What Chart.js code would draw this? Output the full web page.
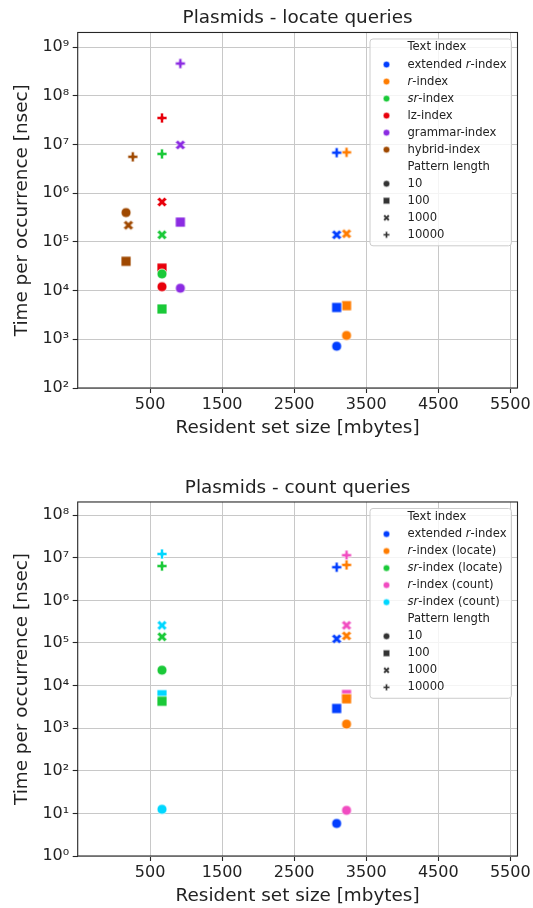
<!DOCTYPE html>
<html>
<head>
<meta charset="utf-8">
<script src="https://cdn.jsdelivr.net/npm/chart.js@4.4.1/dist/chart.umd.min.js"></script>
<style>
  html, body { margin: 0; padding: 0; background: #fff; }
  #wrap { position: relative; width: 533px; height: 908px; }
  canvas { position: absolute; left: 0; }
  #locateChart { top: 0; }
  #countChart { top: 454px; }
</style>
</head>
<body>
<div id="wrap">
  <canvas id="locateChart" width="533" height="454"></canvas>
  <canvas id="countChart" width="533" height="454"></canvas>
</div>
<script>
// ---- data ----
var xTicks = [500, 1500, 2500, 3500, 4500, 5500];
var locateYTicks = [1e2, 1e3, 1e4, 1e5, 1e6, 1e7, 1e8, 1e9];
var countYTicks = [1e0, 1e1, 1e2, 1e3, 1e4, 1e5, 1e6, 1e7, 1e8];
var patternLengths = ["10", "100", "1000", "10000"];
var markerShapes = ["o", "s", "X", "P"];

// resident set size per pattern length [mbytes]
var rssExtR = [3090, 3090, 3090, 3090];
var rssR = [3227, 3227, 3227, 3227];
var rssSr = [665, 665, 665, 665];
var rssLz = [665, 665, 665, 665];
var rssGrammar = [920, 920, 920, 920];
var rssHybrid = [166, 166, 199, 260];

// locate queries, time per occurrence [nsec]
var locExtR = [720, 4500, 140000, 6800000];
var locR = [1200, 4900, 147000, 6900000];
var locSr = [22000, 4200, 140000, 6400000];
var locLz = [12000, 29000, 660000, 35000000];
var locGrammar = [11200, 255000, 9800000, 460000000];
var locHybrid = [400000, 40000, 220000, 5600000];

// count queries, time per occurrence [nsec]
var cntExtR = [5.8, 2900, 125000, 6000000];
var cntRLocate = [1250, 4900, 147000, 6800000];
var cntSrLocate = [23000, 4300, 140000, 6400000];
var cntRCount = [11.8, 6200, 260000, 11500000];
var cntSrCount = [12.5, 6100, 260000, 12300000];

var BLUE = "#023eff", ORANGE = "#ff7c00", GREEN = "#1ac938", RED = "#e8000b",
    PURPLE = "#8b2be2", BROWN = "#9f4800", PINK = "#f14cc1", CYAN = "#00d7ff";

Chart.defaults.font.family = "'DejaVu Sans', sans-serif";
Chart.defaults.color = "#222";

var FONT = "'DejaVu Sans', sans-serif";
var SUP = ["\u2070", "\u00b9", "\u00b2", "\u00b3", "\u2074", "\u2075", "\u2076", "\u2077", "\u2078", "\u2079"];

// matplotlib filled 'X' and 'P' outlines, scaled to [-1, 1]
var X_PTS = [[-1,-2],[0,-1],[1,-2],[2,-1],[1,0],[2,1],[1,2],[0,1],[-1,2],[-2,1],[-1,0],[-2,-1]];
var P_PTS = [[-1,-3],[1,-3],[1,-1],[3,-1],[3,1],[1,1],[1,3],[-1,3],[-1,1],[-3,1],[-3,-1],[-1,-1]];

function marker(shape, color, size, edge) {
    var dim = Math.ceil(size + 4);
    var c = document.createElement("canvas");
    c.width = dim; c.height = dim;
    var g = c.getContext("2d");
    var h = size / 2;
    g.translate(dim / 2, dim / 2);
    g.beginPath();
    if (shape === "o") {
        g.arc(0, 0, h, 0, Math.PI * 2);
    } else if (shape === "s") {
        g.rect(-h, -h, size, size);
    } else {
        var pts = shape === "X" ? X_PTS : P_PTS;
        var k = shape === "X" ? h / 2 : h / 3;
        pts.forEach(function (p, i) {
            if (i) g.lineTo(p[0] * k, p[1] * k); else g.moveTo(p[0] * k, p[1] * k);
        });
        g.closePath();
    }
    g.fillStyle = color;
    g.fill();
    if (edge) {
        g.strokeStyle = "#fff";
        g.lineWidth = edge;
        g.stroke();
    }
    return c;
}

function makeDataset(name, color, rss, times) {
    return {
        label: name.replace(/\*/g, ""),
        data: times.map(function (t, i) { return { x: rss[i], y: t }; }),
        pointStyle: markerShapes.map(function (s) { return marker(s, color, 10, 0.8); }),
        pointRadius: 5,
        pointHoverRadius: 5,
        backgroundColor: color,
        borderColor: color,
        borderWidth: 0
    };
}

function drawRich(ctx, text, x, y) {
    var parts = text.split("*");
    for (var i = 0; i < parts.length; i++) {
        if (!parts[i]) continue;
        ctx.font = (i % 2 ? "italic " : "") + "11.6px " + FONT;
        ctx.fillText(parts[i], x, y);
        x += ctx.measureText(parts[i]).width;
    }
}

function boxLegend(rows) {
    return {
        id: "boxLegend",
        afterDatasetsDraw: function (chart) {
            var a = chart.chartArea, ctx = chart.ctx;
            ctx.save();
            // spines
            ctx.strokeStyle = "#262626";
            ctx.lineWidth = 1.1;
            ctx.strokeRect(a.left, a.top, a.right - a.left, a.bottom - a.top);

            var step = 17.03;
            var firstRow = a.top + 15;
            var x0 = a.right - 147.5, x1 = a.right - 6;
            var y0 = a.top + 6.5, y1 = firstRow + step * (rows.length - 1) + 11;
            ctx.beginPath();
            if (ctx.roundRect) ctx.roundRect(x0, y0, x1 - x0, y1 - y0, 3);
            else ctx.rect(x0, y0, x1 - x0, y1 - y0);
            ctx.fillStyle = "rgba(255,255,255,0.8)";
            ctx.fill();
            ctx.strokeStyle = "#cccccc";
            ctx.lineWidth = 1;
            ctx.stroke();

            ctx.textBaseline = "middle";
            ctx.textAlign = "left";
            ctx.fillStyle = "#222";
            rows.forEach(function (r, i) {
                var y = firstRow + step * i;
                if (r.shape) {
                    var m = marker(r.shape, r.color, 6.5, 0.5);
                    ctx.drawImage(m, a.right - 131 - m.width / 2, y - m.height / 2);
                }
                ctx.fillStyle = "#222";
                drawRich(ctx, r.label, a.right - 110, y);
            });
            ctx.restore();
        }
    };
}

function legendRows(names, colors) {
    var rows = [{ label: "Text index" }];
    names.forEach(function (n, i) { rows.push({ label: n, color: colors[i], shape: "o" }); });
    rows.push({ label: "Pattern length" });
    patternLengths.forEach(function (p, i) { rows.push({ label: p, color: "#333333", shape: markerShapes[i] }); });
    return rows;
}

function buildChart(id, titleText, titlePad, names, colors, datasets, yMin, yMax, yTicks, xScaleHeight, xTitlePad) {
    return new Chart(document.getElementById(id), {
        type: "scatter",
        data: { datasets: datasets },
        options: {
            responsive: false,
            animation: false,
            events: [],
            layout: { padding: { left: 0, right: 15.5, top: 0, bottom: 0 } },
            plugins: {
                legend: { display: false },
                tooltip: { enabled: false },
                title: {
                    display: true,
                    fullSize: false,
                    text: titleText,
                    color: "#222",
                    font: { size: 18.4, weight: "normal" },
                    padding: titlePad
                }
            },
            scales: {
                x: {
                    type: "linear",
                    min: -505,
                    max: 5600,
                    afterBuildTicks: function (scale) {
                        scale.ticks = xTicks.map(function (v) { return { value: v }; });
                    },
                    afterFit: function (scale) {
                        scale.height = xScaleHeight;
                        scale.paddingLeft = 0; scale.paddingRight = 0;
                    },
                    ticks: {
                        autoSkip: false, maxRotation: 0, padding: 2,
                        font: { size: 16 }, color: "#222",
                        callback: function (v) { return String(v); }
                    },
                    grid: { color: "#c8c8c8", lineWidth: 1, drawTicks: true, tickLength: 5, tickColor: "#262626", tickWidth: 1.1 },
                    border: { display: false },
                    title: {
                        display: true, text: "Resident set size [mbytes]", color: "#222",
                        font: { size: 18.4 }, padding: { top: 0, bottom: xTitlePad }
                    }
                },
                y: {
                    type: "logarithmic",
                    min: yMin,
                    max: yMax,
                    afterBuildTicks: function (scale) {
                        scale.ticks = yTicks.map(function (v) { return { value: v }; });
                    },
                    afterFit: function (scale) {
                        scale.width = 77.7;
                        scale.paddingTop = 0; scale.paddingBottom = 0;
                    },
                    ticks: {
                        autoSkip: false, padding: 3.5,
                        font: { size: 16 }, color: "#222",
                        callback: function (v) {
                            var e = Math.round(Math.log10(v));
                            return "10" + String(e).split("").map(function (d) { return SUP[+d]; }).join("");
                        }
                    },
                    grid: { color: "#c8c8c8", lineWidth: 1, drawTicks: true, tickLength: 5, tickColor: "#262626", tickWidth: 1.1 },
                    border: { display: false },
                    title: {
                        display: true, text: "Time per occurrence [nsec]", color: "#222",
                        font: { size: 18.4 }, padding: { top: 11, bottom: 0 }
                    }
                }
            }
        },
        plugins: [boxLegend(legendRows(names, colors))]
    });
}

var locateNames = ["extended *r*-index", "*r*-index", "*sr*-index", "lz-index", "grammar-index", "hybrid-index"];
var locateColors = [BLUE, ORANGE, GREEN, RED, PURPLE, BROWN];
var locateSets = [
    makeDataset(locateNames[0], BLUE, rssExtR, locExtR),
    makeDataset(locateNames[1], ORANGE, rssR, locR),
    makeDataset(locateNames[2], GREEN, rssSr, locSr),
    makeDataset(locateNames[3], RED, rssLz, locLz),
    makeDataset(locateNames[4], PURPLE, rssGrammar, locGrammar),
    makeDataset(locateNames[5], BROWN, rssHybrid, locHybrid)
];

var countNames = ["extended *r*-index", "*r*-index (locate)", "*sr*-index (locate)", "*r*-index (count)", "*sr*-index (count)"];
var countColors = [BLUE, ORANGE, GREEN, PINK, CYAN];
var countSets = [
    makeDataset(countNames[0], BLUE, rssExtR, cntExtR),
    makeDataset(countNames[1], ORANGE, rssR, cntRLocate),
    makeDataset(countNames[2], GREEN, rssSr, cntSrLocate),
    makeDataset(countNames[3], PINK, rssR, cntRCount),
    makeDataset(countNames[4], CYAN, rssSr, cntSrCount)
];

buildChart("locateChart", "Plasmids - locate queries", { top: 7, bottom: 3.4 },
    locateNames, locateColors, locateSets, 1e2, Math.pow(10, 9.3), locateYTicks, 66, 15);

buildChart("countChart", "Plasmids - count queries", { top: 23.3, bottom: 2.6 },
    countNames, countColors, countSets, 1e0, Math.pow(10, 8.31), countYTicks, 52, 1);
</script>
</body>
</html>
